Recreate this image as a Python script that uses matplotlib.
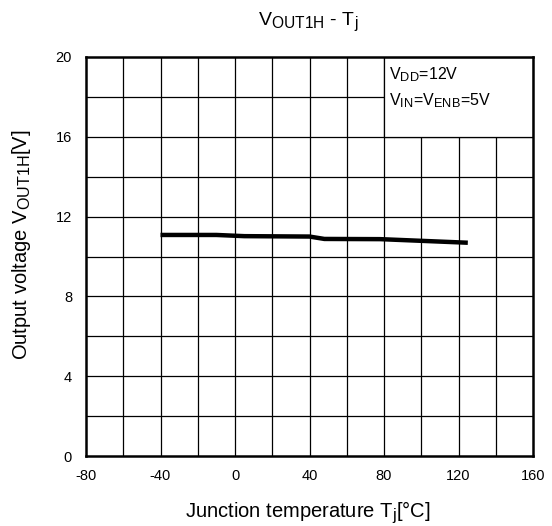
import matplotlib
matplotlib.use("Agg")
import matplotlib.pyplot as plt
from matplotlib.patches import Rectangle
import matplotlib._mathtext as _mt

_mt.SHRINK_FACTOR = 0.8

plt.rcParams['font.family'] = ['Liberation Sans', 'DejaVu Sans']
plt.rcParams['mathtext.fontset'] = 'custom'
plt.rcParams['mathtext.rm'] = 'Liberation Sans'
plt.rcParams['mathtext.it'] = 'Liberation Sans'
plt.rcParams['axes.unicode_minus'] = False

temp_c = [-40, -10, 5, 40, 48, 78, 125]
vout_v = [11.08, 11.08, 11.02, 11.0, 10.88, 10.87, 10.69]
x_ticks = [-80, -40, 0, 40, 80, 120, 160]
y_ticks = [0, 4, 8, 12, 16, 20]

W, H = 552, 526
fig = plt.figure(figsize=(W / 100, H / 100), dpi=100)
ax = fig.add_axes([86 / W, 1 - 456 / H, (533 - 86) / W, (456 - 57) / H])
ax.set_xlim(-80, 160)
ax.set_ylim(0, 20)

for xv in range(-60, 160, 20):
    ax.axvline(xv, color='black', lw=0.9, zorder=1)
for yv in range(2, 20, 2):
    ax.axhline(yv, color='black', lw=0.9, zorder=1)

ax.add_patch(Rectangle((80, 16), 80, 4, facecolor='white', edgecolor='black', lw=0.9, zorder=2))
ax.text(82.7, 19.6, r'V$_{\mathrm{DD}}$=12V', fontsize=11.5, va='top', ha='left', zorder=3)
ax.text(82.7, 18.3, r'V$_{\mathrm{IN}}$=V$_{\mathrm{ENB}}$=5V', fontsize=11.5, va='top', ha='left', zorder=3)

ax.plot(temp_c, vout_v, color='black', lw=3.2, solid_capstyle='butt', zorder=4)

ax.set_xticks(x_ticks)
ax.set_yticks(y_ticks)
ax.tick_params(length=0, labelsize=10.5)
ax.tick_params(axis='x', pad=9)
ax.tick_params(axis='y', pad=10)
for s in ax.spines.values():
    s.set_linewidth(1.8)
    s.set_zorder(5)

fig.text(308 / W, 1 - 25 / H, r'V$_{\mathrm{OUT1H}}$ - T$_{\mathrm{j}}$', fontsize=14,
         ha='center', va='baseline')
fig.text(308 / W, 1 - 518 / H, r'Junction temperature T$_{\mathrm{j}}$[°C]', fontsize=14.5,
         ha='center', va='baseline')
fig.text(22 / W, 1 - 245 / H, r'Output voltage V$_{\mathrm{OUT1H}}$[V]', fontsize=14.5,
         ha='center', va='center', rotation=90)

fig.savefig('out.png', dpi=100, facecolor='white')
